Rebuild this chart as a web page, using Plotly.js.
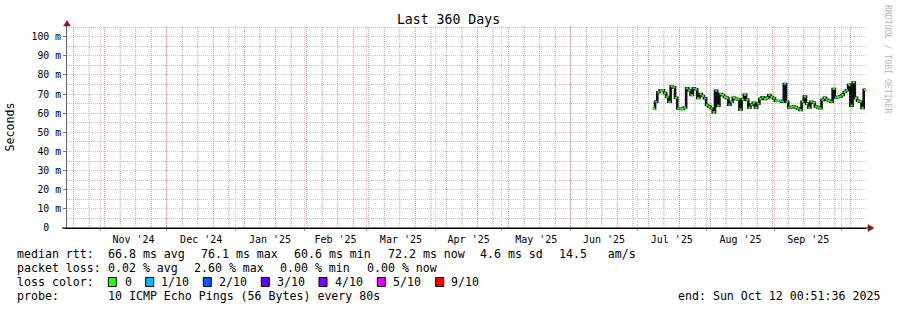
<!DOCTYPE html>
<html>
<head>
<meta charset="utf-8">
<script src="https://cdn.plot.ly/plotly-3.0.1.min.js"></script>
<style>html,body{margin:0;padding:0;background:#fff;}#chart{width:897px;height:310px;}</style>
</head>
<body>
<div id="chart"></div>
<script>
// ---------- data ----------
const rangeStart = '2024-10-17 00:51:36';
const rangeEnd = '2025-10-12 00:51:36';
const lastSampleEnd = '2025-10-12 00:00:00';

const dates = [
 '2025-07-08','2025-07-09','2025-07-10','2025-07-11','2025-07-12','2025-07-13','2025-07-14','2025-07-15',
 '2025-07-16','2025-07-17','2025-07-18','2025-07-19','2025-07-20','2025-07-21','2025-07-22','2025-07-23',
 '2025-07-24','2025-07-25','2025-07-26','2025-07-27','2025-07-28','2025-07-29','2025-07-30','2025-07-31',
 '2025-08-01','2025-08-02','2025-08-03','2025-08-04','2025-08-05','2025-08-06','2025-08-07','2025-08-08',
 '2025-08-09','2025-08-10','2025-08-11','2025-08-12','2025-08-13','2025-08-14','2025-08-15','2025-08-16',
 '2025-08-17','2025-08-18','2025-08-19','2025-08-20','2025-08-21','2025-08-22','2025-08-23','2025-08-24',
 '2025-08-25','2025-08-26','2025-08-27','2025-08-28','2025-08-29','2025-08-30','2025-08-31',
 '2025-09-01','2025-09-02','2025-09-03','2025-09-04','2025-09-05','2025-09-06','2025-09-07','2025-09-08',
 '2025-09-09','2025-09-10','2025-09-11','2025-09-12','2025-09-13','2025-09-14','2025-09-15','2025-09-16',
 '2025-09-17','2025-09-18','2025-09-19','2025-09-20','2025-09-21','2025-09-22','2025-09-23','2025-09-24',
 '2025-09-25','2025-09-26','2025-09-27','2025-09-28','2025-09-29','2025-09-30',
 '2025-10-01','2025-10-02','2025-10-03','2025-10-04','2025-10-05','2025-10-06','2025-10-07','2025-10-08',
 '2025-10-09','2025-10-10','2025-10-11'
];
// median rtt in ms
const medianRtt = [
 62.6,66.0,71.0,72.0,72.0,70.5,68.5,66.0,
 74.0,73.5,68.0,62.5,62.3,62.3,63.0,73.0,
 72.0,69.5,73.0,72.5,68.0,70.0,69.0,67.8,
 64.3,63.5,62.6,60.6,71.7,64.0,70.0,69.5,
 68.5,68.0,64.5,66.0,68.0,67.5,67.2,62.0,
 67.2,69.6,67.0,63.0,64.5,65.5,63.0,65.0,
 67.5,68.3,67.5,68.0,69.5,68.5,67.8,
 66.5,66.4,66.4,66.0,75.3,66.0,63.0,63.2,
 63.5,63.0,62.5,61.7,66.0,68.7,65.0,63.0,
 66.0,65.5,63.5,63.0,62.6,67.0,68.0,67.0,
 66.5,66.0,72.7,68.3,68.5,68.8,
 69.6,71.1,72.0,74.8,64.0,76.1,68.0,66.5,
 66.0,62.8,72.2
];
// loss in tenths (0 .. 10)
const lossTenths = [
 0,1,0,0,0,0,0,0,
 0,0,0,0,0,0,0,0,
 0,0,1,0,0,0,0,1,
 0,0,0,0,1,0,0,0,
 0,0,1,0,0,0,0,0,
 0,0,0,0,0,0,0,0,
 0,0,0,0,0,0,0,
 0,0,1,0,1,0,0,0,
 0,0,0,0,0,0,0,0,
 0,0,0,0,0,0,0,0,
 0,0,0,1,0,0,
 0,0,0,0,0,0,0,0,
 0,0,0
];
const yTickVals = [0,10,20,30,40,50,60,70,80,90,100];
const yTickText = ['0\u00a0\u00a0','10 m','20 m','30 m','40 m','50 m','60 m','70 m','80 m','90 m','100 m'];
const lossLevels = [0,1,2,3,4,5,9];
const lossLabels = ['0','1/10','2/10','3/10','4/10','5/10','9/10'];
const lossColors = ['#26ff00','#00b8ff','#0059ff','#5e00ff','#7e00ff','#dd00ff','#ff0000'];
const rttLegend = ['66.8 ms avg','76.1 ms max','60.6 ms min','72.2 ms now','4.6 ms sd','14.5   am/s'];
const lossLegend = ['0.02 % avg','2.60 % max','0.00 % min','0.00 % now'];
const probeText = '10 ICMP Echo Pings (56 Bytes) every 80s';
const endText = 'end: Sun Oct 12 00:51:36 2025';

// ---------- layout geometry ----------
const W = 897, H = 310, L = 67, R = 866, T = 26, B = 228;
const Y_TOP = 105.6;
const px = x => (x - L) / (R - L);
const py = y => (B - y) / (B - T);
const MONO = 'DejaVu Sans Mono';
const RED_GRID = '#f6b8b8';
const GRAY_GRID = '#c4c4c4';
const WEEK_GRID = '#a6a6a6';

// weekly grid positions (axis decoration, Sundays)
const weekLines = [];
{
  const t0 = Date.UTC(2024, 9, 20);
  const tEnd = Date.UTC(2025, 9, 12);
  for (let t = t0; t < tEnd; t += 7 * 86400000) weekLines.push(new Date(t).toISOString().slice(0, 10));
}

// ---------- traces ----------
const gx = [], gy = [];
weekLines.forEach(d => { gx.push(d, d, null); gy.push(0, Y_TOP, null); });
const traces = [{
  x: gx, y: gy, type: 'scatter', mode: 'lines',
  line: {color: WEEK_GRID, width: 1, dash: '1px,1px'}, hoverinfo: 'skip', showlegend: false
}];
const stepX = dates.concat([lastSampleEnd]);
const stepY = medianRtt.concat([medianRtt[medianRtt.length - 1]]);
traces.push({
  x: stepX, y: stepY, type: 'scatter', mode: 'lines',
  line: {color: '#111', width: 2.6, shape: 'hv'}, hoverinfo: 'skip', showlegend: false
});
lossLevels.forEach((lv, k) => {
  const sx = [], sy = [];
  for (let i = 0; i < dates.length; i++) {
    if (lossTenths[i] !== lv) continue;
    sx.push(dates[i], stepX[i + 1], null);
    sy.push(medianRtt[i], medianRtt[i], null);
  }
  if (sx.length) traces.push({
    x: sx, y: sy, type: 'scatter', mode: 'lines',
    line: {color: lossColors[k], width: 2}, hoverinfo: 'skip', showlegend: false
  });
});

// ---------- annotations ----------
const ann = [];
function txt(x, y, s, opts) {
  ann.push(Object.assign({
    xref: 'paper', yref: 'paper', x: px(x), y: py(y), text: s, showarrow: false,
    xanchor: 'left', yanchor: 'middle', borderpad: 0,
    font: {family: MONO, size: 11.6, color: '#000'}
  }, opts || {}));
}
txt(16, 254, 'median rtt:');
const rttX = [107.3, 200, 293.3, 386.7, 479.3, 558.3];
rttLegend.forEach((s, i) => txt(rttX[i], 254, s));
txt(16, 268, 'packet loss:');
const lossX = [107.3, 193.3, 279.3, 365.7];
lossLegend.forEach((s, i) => txt(lossX[i], 268, s));
txt(16, 282, 'loss color:');
const boxX = [108.3, 145.7, 203.3, 261.3, 319, 377.3, 435.7];
const labX = [123.7, 160, 218, 276, 333.7, 392, 450];
lossLabels.forEach((s, i) => txt(labX[i], 282, s));
txt(16, 296, 'probe:');
txt(107.3, 296, probeText);
txt(881, 296, endText, {xanchor: 'right'});
ann.push({xref: 'paper', yref: 'paper', x: px(888), y: py(59), text: 'RRDTOOL / TOBI OETIKER',
  showarrow: false, textangle: 90, xanchor: 'center', yanchor: 'middle', borderpad: 0,
  font: {family: MONO, size: 8.2, color: '#b8b8b8'}});

// ---------- shapes ----------
const shapes = [];
boxX.forEach((x, i) => shapes.push({type: 'rect', xref: 'paper', yref: 'paper',
  x0: px(x), x1: px(x + 8), y0: py(286.5), y1: py(277.5),
  line: {color: '#000', width: 1}, fillcolor: lossColors[i]}));
// axis extensions and arrows
shapes.push({type: 'line', xref: 'paper', yref: 'paper', x0: px(62), x1: px(869), y0: 0, y1: 0,
  line: {color: '#000', width: 1}});
shapes.push({type: 'path', xref: 'paper', yref: 'paper',
  path: `M ${px(868)} ${py(224.5)} L ${px(874)} ${py(228)} L ${px(868)} ${py(231.5)} Z`,
  fillcolor: '#8b1a1a', line: {color: '#8b1a1a', width: 0.5}});
shapes.push({type: 'path', xref: 'paper', yref: 'paper',
  path: `M ${px(63.5)} ${py(26)} L ${px(67)} ${py(20.5)} L ${px(70.5)} ${py(26)} Z`,
  fillcolor: '#8b1a1a', line: {color: '#8b1a1a', width: 0.5}});

const layout = {
  width: W, height: H,
  margin: {l: L, r: W - R, t: T, b: H - B, pad: 0},
  paper_bgcolor: '#fff', plot_bgcolor: '#fff',
  showlegend: false,
  title: {text: 'Last 360 Days', font: {family: MONO, size: 13.2, color: '#000'},
    xref: 'container', yref: 'container', x: 0.5, y: 1 - 19 / H, xanchor: 'center', yanchor: 'middle'},
  xaxis: {
    type: 'date', range: [rangeStart, rangeEnd], fixedrange: true,
    dtick: 'M1', tick0: '2024-11-01', ticklabelmode: 'period', tickformat: "%b '%y",
    showgrid: true, gridcolor: RED_GRID, griddash: '1px,1px', gridwidth: 1,
    ticks: 'outside', ticklen: 2, tickcolor: '#f08080', tickwidth: 1,
    showline: true, linecolor: '#000', linewidth: 1, zeroline: false,
    tickfont: {family: MONO, size: 10, color: '#000'}
  },
  yaxis: {
    range: [0, Y_TOP], fixedrange: true,
    tickmode: 'array', tickvals: yTickVals, ticktext: yTickText,
    showgrid: true, gridcolor: RED_GRID, griddash: '1px,1px', gridwidth: 1,
    ticks: 'outside', ticklen: 3, tickcolor: '#777',
    showline: true, linecolor: '#666', linewidth: 1, zeroline: false,
    tickfont: {family: MONO, size: 9.8, color: '#000'},
    minor: {dtick: 5, tick0: 0, showgrid: true, gridcolor: GRAY_GRID, griddash: '1px,1px'},
    title: {text: 'Seconds', font: {family: MONO, size: 11.6, color: '#000'}, standoff: 14}
  },
  annotations: ann,
  shapes: shapes
};
Plotly.newPlot('chart', traces, layout, {staticPlot: true, displayModeBar: false});
</script>
</body>
</html>
